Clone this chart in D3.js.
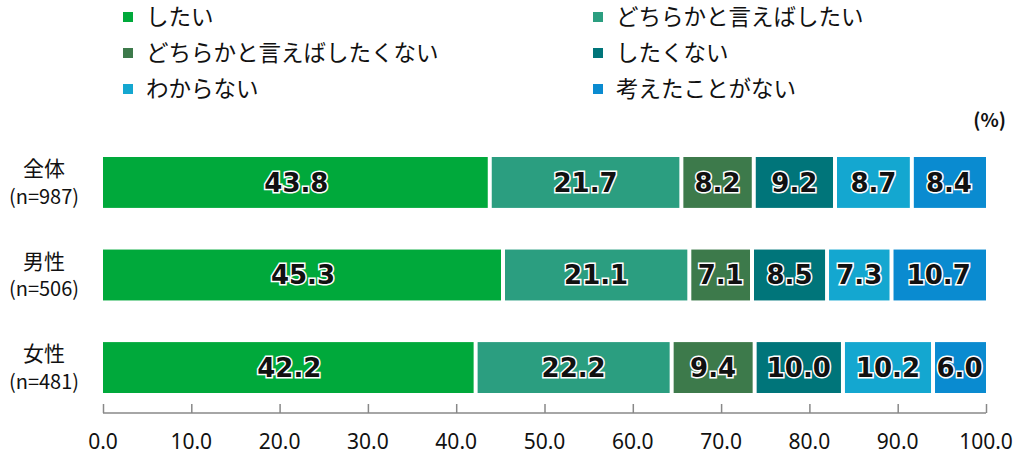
<!DOCTYPE html>
<html>
<head>
<meta charset="utf-8">
<script src="https://cdn.jsdelivr.net/npm/d3@7"></script>
<style>
  body { margin: 0; background: #fff; }
  svg { display: block; font-family: "Noto Sans CJK JP", "Noto Sans", sans-serif; }
</style>
</head>
<body>
<svg id="chart"></svg>
<script>
const CONF = {
    width: 1024,
    height: 461,
    left: 103,
    right: 986,
    top: 157,
    bottom: 393,
    gap: 2,
}

// data
const groups = ["全体", "男性", "女性"]
const groupN = ["(n=987)", "(n=506)", "(n=481)"]
const answers = ["したい", "どちらかと言えばしたい", "どちらかと言えばしたくない", "したくない", "わからない", "考えたことがない"]
const colors = ["#00a93b", "#2b9e80", "#3d7a4b", "#00757a", "#14a7d0", "#0a8bd0"]
const values = [
    [43.8, 21.7, 8.2, 9.2, 8.7, 8.4],
    [45.3, 21.1, 7.1, 8.5, 7.3, 10.7],
    [42.2, 22.2, 9.4, 10.0, 10.2, 6.0],
]
const ticks = [0, 10, 20, 30, 40, 50, 60, 70, 80, 90, 100]

let svg = d3.select("svg#chart").attr("width", CONF.width).attr("height", CONF.height)

let x = d3.scaleLinear().domain([0, 100]).range([CONF.left, CONF.right])
let y = d3.scaleBand().domain(groups).range([CONF.top, CONF.bottom]).paddingInner(0.45).paddingOuter(0)

// legend: two columns, three rows
let legend = svg.selectAll(".legend")
    .data(answers)
    .enter()
    .append("g")
    .classed("legend", true)
    .attr("transform", (d, i) => `translate(${i % 2 ? 598 : 128},${17 + Math.floor(i / 2) * 36})`)

legend.append("rect")
    .attr("x", -5).attr("y", -5)
    .attr("width", 10).attr("height", 10)
    .attr("fill", (d, i) => colors[i])

legend.append("text")
    .attr("x", 18)
    .attr("dy", "0.36em")
    .attr("font-size", 22.5)
    .attr("fill", "#111")
    .text(d => d)

svg.append("text")
    .attr("x", 1006).attr("y", 127)
    .attr("text-anchor", "end")
    .attr("font-size", 19)
    .attr("font-weight", "bold")
    .attr("fill", "#111")
    .text("(%)")

// stacked rows
let stacked = values.map(row => {
    let acc = 0
    return row.map((v, i) => {
        let s = { start: acc, end: acc + v, v: v, i: i }
        acc += v
        return s
    })
})

let rows = svg.selectAll(".row")
    .data(stacked)
    .enter()
    .append("g")
    .classed("row", true)
    .attr("transform", (d, i) => `translate(0,${y(groups[i])})`)

let segs = rows.selectAll(".seg")
    .data(d => d)
    .enter()
    .append("g")
    .classed("seg", true)

// small white gap between segments
segs.append("rect")
    .attr("x", d => x(d.start) + (d.i ? CONF.gap : 0))
    .attr("width", d => x(d.end) - x(d.start) - (d.i ? CONF.gap : 0) - (d.i < 5 ? CONF.gap : 0))
    .attr("height", y.bandwidth())
    .attr("fill", d => colors[d.i])

segs.append("text")
    .attr("x", d => (x(d.start) + x(d.end)) / 2)
    .attr("y", y.bandwidth() / 2)
    .attr("dy", "0.36em")
    .attr("text-anchor", "middle")
    .attr("font-family", "'DejaVu Sans', sans-serif")
    .attr("font-weight", "bold")
    .attr("font-size", 26)
    .attr("fill", "#111")
    .attr("stroke", "#fff")
    .attr("stroke-width", 3)
    .attr("paint-order", "stroke")
    .each(function (d) {
        let w = x(d.end) - x(d.start) - 6
        let t = d3.select(this).text(d.v.toFixed(1))
        if (this.getComputedTextLength() > w) {
            t.attr("textLength", w).attr("lengthAdjust", "spacingAndGlyphs")
        }
    })

// category labels
let cats = svg.selectAll(".cat")
    .data(groups)
    .enter()
    .append("g")
    .classed("cat", true)
    .attr("transform", d => `translate(44,${y(d) + y.bandwidth() / 2})`)

cats.append("text")
    .attr("y", -14)
    .attr("dy", "0.36em")
    .attr("text-anchor", "middle")
    .attr("font-size", 21)
    .attr("fill", "#111")
    .text(d => d)

cats.append("text")
    .attr("y", 14)
    .attr("dy", "0.36em")
    .attr("text-anchor", "middle")
    .attr("font-size", 20)
    .attr("fill", "#111")
    .text((d, i) => groupN[i])

// axis with ticks pointing up
let axis = svg.append("g")
    .attr("transform", "translate(0,413)")
    .call(d3.axisTop(x).tickValues(ticks).tickSize(9).tickFormat(""))

axis.selectAll("path, line").attr("stroke", "#888").attr("stroke-width", 1.5)
axis.select(".domain").attr("d", `M${CONF.left},0H${CONF.right}`)

svg.selectAll(".tick-label")
    .data(ticks)
    .enter()
    .append("text")
    .classed("tick-label", true)
    .attr("x", d => x(d))
    .attr("y", 449)
    .attr("text-anchor", "middle")
    .attr("font-family", "'Noto Sans', sans-serif")
    .attr("font-size", 21)
    .attr("fill", "#111")
    .text(d => d.toFixed(1))
</script>
</body>
</html>
